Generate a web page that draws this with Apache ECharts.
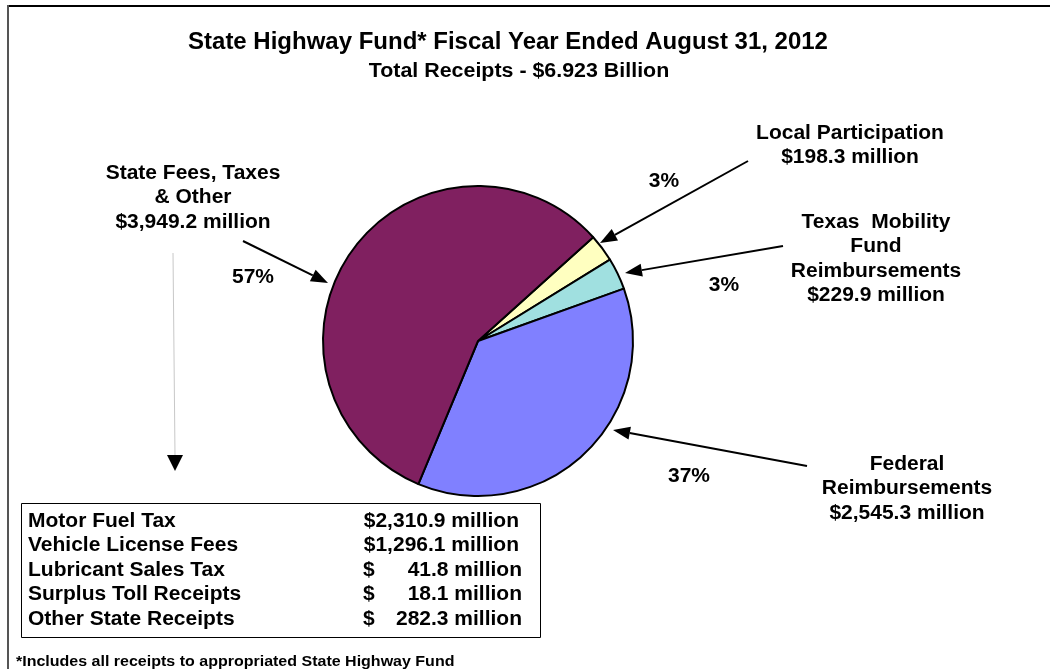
<!DOCTYPE html>
<html>
<head>
<meta charset="utf-8">
<script src="https://cdn.jsdelivr.net/npm/echarts@6/dist/echarts.min.js"></script>
<style>
  html, body { margin: 0; padding: 0; background: #ffffff; }
  #chart { width: 1050px; height: 669px; }
</style>
</head>
<body>
<div id="chart"></div>
<script>
// ---- data ----
const sliceNames = ['Local Participation', 'Texas  Mobility\nFund\nReimbursements', 'Federal\nReimbursements', 'State Fees, Taxes\n& Other'];
const sliceValues = [198.3, 229.9, 2545.3, 3949.2];
const sliceColors = ['#FFFFC0', '#A0E0E0', '#8080FF', '#802060'];
const breakdownNames = ['Motor Fuel Tax', 'Vehicle License Fees', 'Lubricant Sales Tax', 'Surplus Toll Receipts', 'Other State Receipts'];
const breakdownValues = [2310.9, 1296.1, 41.8, 18.1, 282.3];
const titleText = 'State Highway Fund* Fiscal Year Ended August 31, 2012';
const subtitleText = 'Total Receipts - $6.923 Billion';
const footnoteText = '*Includes all receipts to appropriated State Highway Fund';

const FONT = '"Liberation Sans", Arial, sans-serif';
const LBL = 'bold 20px ' + FONT;
const SX = 1.05;
const total = sliceValues.reduce((a, b) => a + b, 0);
const fmtMoney = v => v.toLocaleString('en-US', { minimumFractionDigits: 1, maximumFractionDigits: 1 });
const pct = v => Math.round(v / total * 100) + '%';

// annotation layout (label positions, percent positions, arrows)
const labelPos = [
  { x: 850, y: 121 },   // Local
  { x: 876, y: 210 },   // Texas
  { x: 907, y: 452 },   // Federal
  { x: 193, y: 161 }    // State
];
const pctPos = [
  { x: 664, y: 181 },
  { x: 724, y: 285 },
  { x: 689, y: 476 },
  { x: 253, y: 277 }
];
const arrows = [
  { from: [748, 161], to: [600, 243] },
  { from: [783, 246], to: [625, 273] },
  { from: [807, 466], to: [613, 430] },
  { from: [243, 241], to: [328, 283] }
];

function arrow(from, to, color) {
  const dx = to[0] - from[0], dy = to[1] - from[1];
  const len = Math.sqrt(dx * dx + dy * dy);
  const ux = dx / len, uy = dy / len;
  const hl = 17, hw = 6.5;
  const bx = to[0] - ux * hl, by = to[1] - uy * hl;
  return [
    { type: 'line', shape: { x1: from[0], y1: from[1], x2: bx, y2: by }, style: { stroke: color, lineWidth: 2 } },
    { type: 'polygon', shape: { points: [to, [bx - uy * hw, by + ux * hw], [bx + uy * hw, by - ux * hw]] }, style: { fill: color } }
  ];
}

function txt(x, y, text, font, sx, align, valign, extra) {
  return { type: 'text', x: x, y: y, scaleX: sx,
    style: Object.assign({ text: text, font: font, fill: '#000', textAlign: align, textVerticalAlign: valign }, extra || {}) };
}

const graphics = [];
// frame
graphics.push({ type: 'line', shape: { x1: 7, y1: 6, x2: 1050, y2: 6 }, style: { stroke: '#000', lineWidth: 2 } });
graphics.push({ type: 'line', shape: { x1: 8, y1: 5, x2: 8, y2: 669 }, style: { stroke: '#555', lineWidth: 2 } });

// title
graphics.push(txt(508, 43, titleText, 'bold 23px ' + FONT, 1.043, 'center', 'middle'));
graphics.push(txt(519, 71, subtitleText, 'bold 20px ' + FONT, 1.07, 'center', 'middle'));

// slice labels
sliceNames.forEach((n, i) => {
  graphics.push(txt(labelPos[i].x, labelPos[i].y, n + '\n$' + fmtMoney(sliceValues[i]) + ' million', LBL, SX, 'center', 'top', { lineHeight: 24.5 }));
  graphics.push(txt(pctPos[i].x, pctPos[i].y, pct(sliceValues[i]), LBL, SX, 'center', 'middle'));
  arrows[i] && graphics.push(...arrow(arrows[i].from, arrows[i].to, '#000'));
});

// gray pointer line to table
graphics.push({ type: 'line', shape: { x1: 173, y1: 253, x2: 175, y2: 456 }, style: { stroke: '#c8c8c8', lineWidth: 1 } });
graphics.push({ type: 'polygon', shape: { points: [[175, 471], [167, 455], [183, 455]] }, style: { fill: '#000' } });

// breakdown table
graphics.push({ type: 'rect', shape: { x: 21.5, y: 503.5, width: 519, height: 134 }, style: { fill: '#fff', stroke: '#000', lineWidth: 1 } });
breakdownNames.forEach((n, i) => {
  const y = 521 + i * 24.6;
  graphics.push(txt(28, y, n, LBL, SX, 'left', 'middle'));
  const v = breakdownValues[i];
  if (v >= 1000) {
    graphics.push(txt(519, y, '$' + fmtMoney(v) + ' million', LBL, SX, 'right', 'middle'));
  } else {
    graphics.push(txt(363, y, '$', LBL, SX, 'left', 'middle'));
    graphics.push(txt(522, y, fmtMoney(v) + ' million', LBL, SX, 'right', 'middle'));
  }
});

// footnote
graphics.push(txt(16, 662, footnoteText, 'bold 15px ' + FONT, 1.067, 'left', 'middle'));

const chart = echarts.init(document.getElementById('chart'), null, { renderer: 'canvas' });
chart.setOption({
  backgroundColor: '#ffffff',
  animation: false,
  series: [{
    type: 'pie',
    center: [478, 341],
    radius: 155,
    startAngle: 42,
    clockwise: true,
    silent: true,
    label: { show: false },
    labelLine: { show: false },
    itemStyle: { borderColor: '#000', borderWidth: 2 },
    emphasis: { disabled: true },
    data: sliceNames.map((n, i) => ({ name: n, value: sliceValues[i], itemStyle: { color: sliceColors[i] } }))
  }],
  graphic: graphics
});
</script>
</body>
</html>
